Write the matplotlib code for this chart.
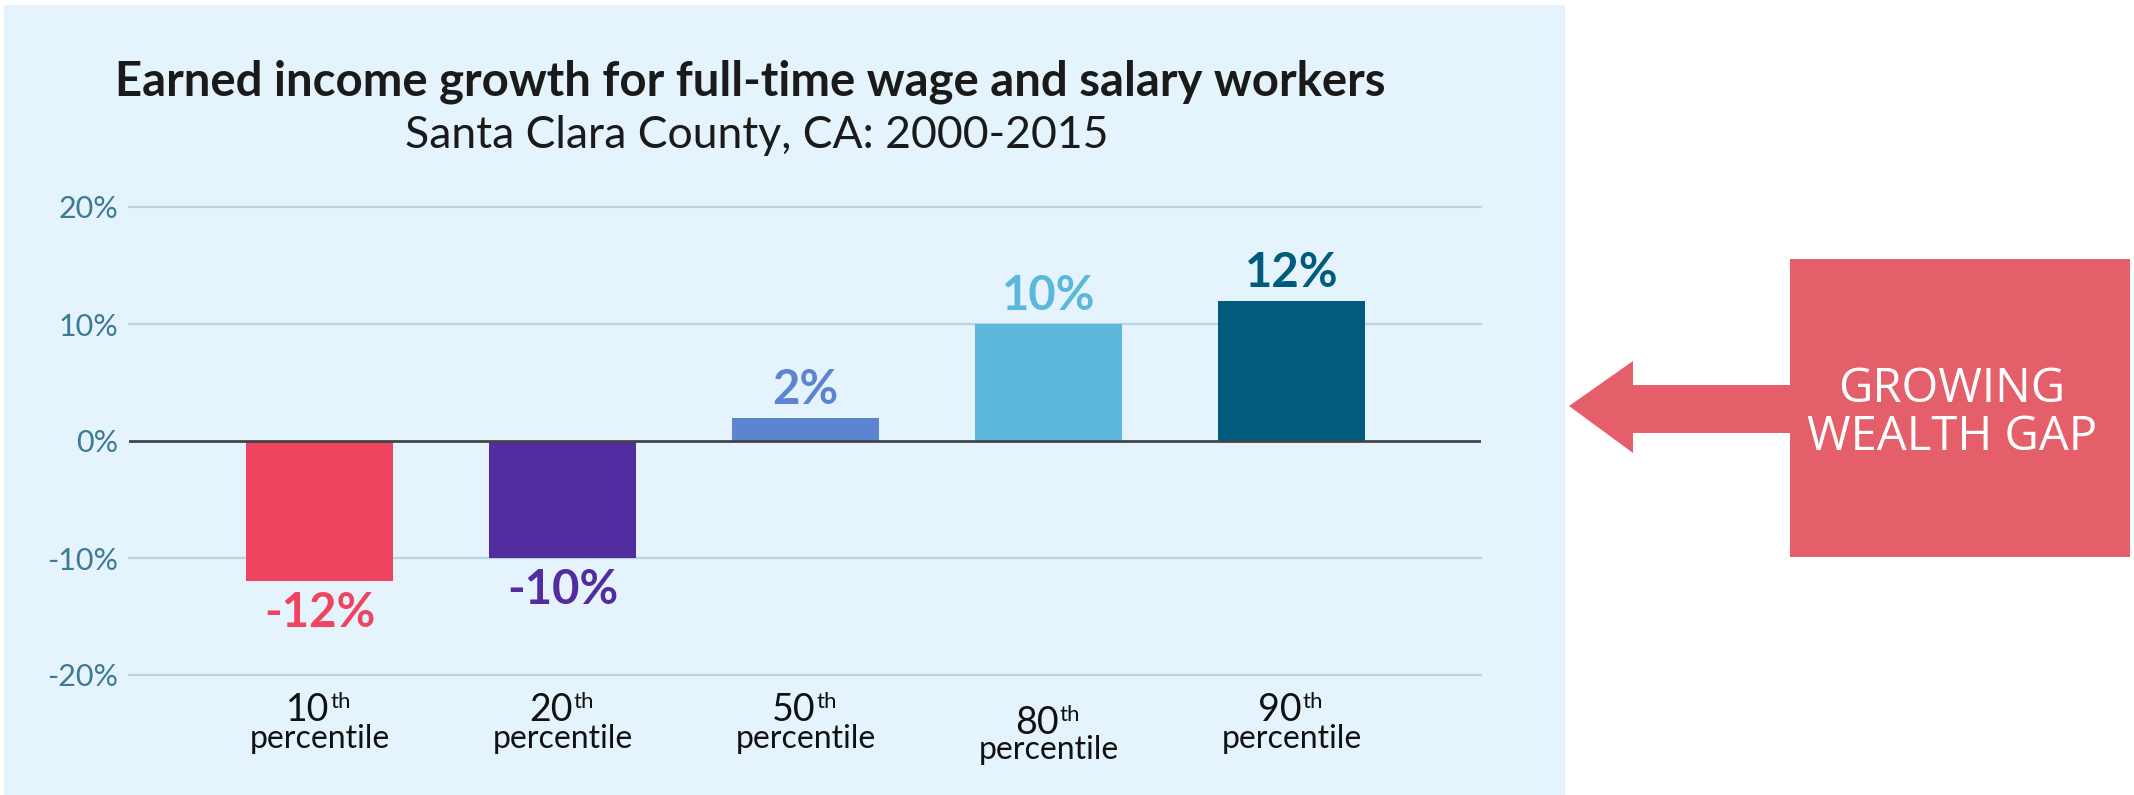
import matplotlib
matplotlib.use("Agg")
import matplotlib.pyplot as plt
from matplotlib.patches import Rectangle, Polygon

categories = ["10", "20", "50", "80", "90"]
values = [-12, -10, 2, 10, 12]
colors = ["#EF445F", "#532CA0", "#5B84D1", "#5BB8DC", "#005B7C"]
yticks = [-20, -10, 0, 10, 20]
ytick_labels = ["-20%", "-10%", "0%", "10%", "20%"]
title = "Earned income growth for full-time wage and salary workers"
subtitle = "Santa Clara County, CA: 2000-2015"
callout = "GROWING\nWEALTH GAP"

W, H = 2134, 795
fig = plt.figure(figsize=(W / 100, H / 100), dpi=100)
fig.patch.set_facecolor("white")

def fx(px):
    return px / W

def fy(py):
    return 1 - py / H

# light blue panel
fig.add_artist(Rectangle((fx(4), 0), fx(1565) - fx(4), fy(5), transform=fig.transFigure,
                         facecolor="#E5F4FC", edgecolor="none", zorder=0))

ax_left, ax_right, ax_top, ax_bot = 129, 1481, 207, 675
ax = fig.add_axes([fx(ax_left), fy(ax_bot), fx(ax_right) - fx(ax_left), (ax_bot - ax_top) / H])
ax.set_facecolor("none")
x = list(range(len(values)))
ax.bar(x, values, width=0.605, color=colors, zorder=3)
ax.set_xlim(-0.785, 4.78)
ax.set_ylim(-20, 20)
ax.set_yticks(yticks)
ax.set_yticklabels(ytick_labels, fontsize=22, color="#3F7A94", family="Lato", fontweight="normal")
ax.tick_params(axis="y", length=0, pad=8)
ax.set_xticks([])
for s in ax.spines.values():
    s.set_visible(False)
for t in yticks:
    if t == 0:
        continue
    ax.axhline(t, color="#BCD3E6", lw=1.6, zorder=1, clip_on=False)
ax.axhline(0, color="#444444", lw=2.0, zorder=4)

for xi, v, c in zip(x, values, colors):
    off = 10 if v > 0 else -33
    ax.annotate(f"{v}%", xy=(xi, v), xytext=(0, off), textcoords="offset points",
                ha="center", va="baseline", fontsize=34, fontweight="bold",
                color=c, family="Lato")

# category labels
num_y = [-0.075, -0.075, -0.075, -0.1026, -0.075]
pct_y = [-0.137, -0.137, -0.137, -0.160, -0.137]
tr = ax.get_xaxis_transform()
for xi, cat, ny, py in zip(x, categories, num_y, pct_y):
    ax.annotate(cat, xy=(xi, ny), xycoords=tr, xytext=(7, 0), textcoords="offset points",
                ha="right", va="center", fontsize=27, color="#111111", family="Lato",
                annotation_clip=False)
    ax.annotate("th", xy=(xi, ny), xycoords=tr, xytext=(8, 6), textcoords="offset points",
                ha="left", va="center", fontsize=16, color="#111111", family="Lato",
                annotation_clip=False)
    ax.annotate("percentile", xy=(xi, py), xycoords=tr, ha="center", va="center",
                fontsize=23, color="#111111", family="Lato", annotation_clip=False)

fig.text(fx(750), fy(82), title, ha="center", va="center", fontsize=34,
         fontweight="bold", color="#1A1A1A", family="Lato")
fig.text(fx(757), fy(136), subtitle, ha="center", va="center", fontsize=32,
         color="#1A1A1A", family="Lato")

# callout box + arrow
red = "#E55F6A"
fig.add_artist(Rectangle((fx(1790), fy(557)), fx(2130) - fx(1790), fy(259) - fy(557),
                         transform=fig.transFigure, facecolor=red, edgecolor="none"))
arrow_pts = [(1569, 406), (1633, 361), (1633, 385), (1792, 385), (1792, 433),
             (1633, 433), (1633, 453)]
fig.add_artist(Polygon([(fx(px), fy(py)) for px, py in arrow_pts], closed=True,
                       transform=fig.transFigure, facecolor=red, edgecolor="none"))
fig.text(fx(1952), fy(413), callout, ha="center", va="center", fontsize=34,
         color="white", family="Open Sans", linespacing=1.0)

fig.savefig("out.png", dpi=100)
